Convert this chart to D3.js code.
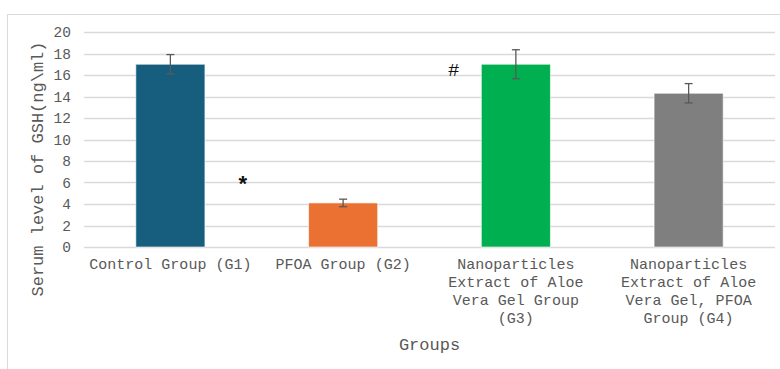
<!DOCTYPE html>
<html>
<head>
<meta charset="utf-8">
<script src="https://cdn.jsdelivr.net/npm/d3@7"></script>
<style>
    body { margin: 0; background: #fff; }
    text { font-family: "Liberation Mono", "Courier New", monospace; }
</style>
</head>
<body>
<div id="vis"></div>
<script>
// data
var groups = ['G1', 'G2', 'G3', 'G4'];
var groupLabels = [
    ['Control Group (G1)'],
    ['PFOA Group (G2)'],
    ['Nanoparticles', 'Extract of Aloe', 'Vera Gel Group', '(G3)'],
    ['Nanoparticles', 'Extract of Aloe', 'Vera Gel, PFOA', 'Group (G4)']
];
var means = [17.0, 4.1, 17.0, 14.3];
var errors = [0.9, 0.35, 1.35, 0.9];
var barColors = ['#175e7e', '#ea7132', '#00b050', '#7f7f7f'];
var yTicks = [0, 2, 4, 6, 8, 10, 12, 14, 16, 18, 20];
// significance marks: [offset in groups from G1, symbol, y value]
var marks = [[0.42, '*', 6.4], [1.64, '#', 16.5]];

var width = 780, height = 369;
var margin = {left: 84, top: 32, right: 5, bottom: 122};

var svg = d3.select('#vis').append('svg')
    .attr('width', width)
    .attr('height', height);

// chart frame
svg.append('path')
    .attr('d', 'M7.5,' + height + 'V14.5H' + width)
    .attr('fill', 'none')
    .attr('stroke', '#d9d9d9');

var x = d3.scaleBand()
    .domain(groups)
    .range([margin.left, width - margin.right])
    .paddingInner(0.6)
    .paddingOuter(0.3);

var y = d3.scaleLinear()
    .domain([0, 20])
    .range([height - margin.bottom, margin.top]);

// gridlines
svg.append('g')
    .selectAll('line')
    .data(yTicks)
    .join('line')
        .attr('x1', margin.left)
        .attr('x2', width - margin.right)
        .attr('y1', function(d) { return Math.round(y(d)) + 0.5; })
        .attr('y2', function(d) { return Math.round(y(d)) + 0.5; })
        .attr('stroke', '#d9d9d9')
        .attr('stroke-width', 1.3);

// y axis labels
var yAxis = svg.append('g')
    .attr('transform', 'translate(' + (margin.left - 13) + ',0)')
    .call(d3.axisLeft(y).tickValues(yTicks).tickSize(0).tickPadding(0));
yAxis.select('.domain').remove();
yAxis.selectAll('text')
    .attr('fill', '#595959')
    .style('font-size', '14.5px')
    .style('font-family', '"Liberation Mono", monospace');

// bars
svg.append('g')
    .selectAll('rect')
    .data(means)
    .join('rect')
        .attr('x', function(d, i) { return x(groups[i]); })
        .attr('y', function(d) { return y(d); })
        .attr('width', x.bandwidth())
        .attr('height', function(d) { return y(0) - y(d); })
        .attr('fill', function(d, i) { return barColors[i]; })
        .attr('stroke', '#ffffff')
        .attr('stroke-opacity', 0.6)
        .attr('stroke-width', 1);

// error bars
var err = svg.append('g')
    .attr('stroke', '#595959')
    .attr('stroke-width', 1.3);
means.forEach(function(m, i) {
    var cx = x(groups[i]) + x.bandwidth() / 2;
    var top = y(m + errors[i]), bot = y(m - errors[i]);
    err.append('line').attr('x1', cx).attr('x2', cx).attr('y1', top).attr('y2', bot);
    err.append('line').attr('x1', cx - 4).attr('x2', cx + 4).attr('y1', top).attr('y2', top);
    err.append('line').attr('x1', cx - 4).attr('x2', cx + 4).attr('y1', bot).attr('y2', bot);
});

// significance marks
var step = x.step();
svg.append('g')
    .selectAll('text')
    .data(marks)
    .join('text')
        .attr('x', function(d) { return x(groups[0]) + x.bandwidth() / 2 + d[0] * step; })
        .attr('y', function(d) { return y(d[2]); })
        .attr('dy', function(d) { return d[1] == '*' ? '0.62em' : '0.36em'; })
        .attr('text-anchor', 'middle')
        .attr('fill', '#111')
        .style('font-weight', function(d) { return d[1] == '*' ? 'bold' : 'normal'; })
        .style('font-size', function(d) { return d[1] == '*' ? '22px' : '19px'; })
        .text(function(d) { return d[1]; });

// category labels
var cat = svg.append('g');
groupLabels.forEach(function(lines, i) {
    var t = cat.append('text')
        .attr('x', x(groups[i]) + x.bandwidth() / 2)
        .attr('y', y(0) + 22)
        .attr('text-anchor', 'middle')
        .attr('fill', '#595959')
        .style('font-size', '15px');
    lines.forEach(function(l, j) {
        t.append('tspan')
            .attr('x', x(groups[i]) + x.bandwidth() / 2)
            .attr('dy', j == 0 ? 0 : 18)
            .text(l);
    });
});

// axis titles
svg.append('text')
    .attr('x', (margin.left + width - margin.right) / 2)
    .attr('y', 350)
    .attr('text-anchor', 'middle')
    .attr('fill', '#595959')
    .style('font-size', '17px')
    .text('Groups');

svg.append('text')
    .attr('transform', 'translate(43,169) rotate(-90)')
    .attr('text-anchor', 'middle')
    .attr('fill', '#595959')
    .style('font-size', '17px')
    .text('Serum level of GSH(ng\\ml)');
</script>
</body>
</html>
